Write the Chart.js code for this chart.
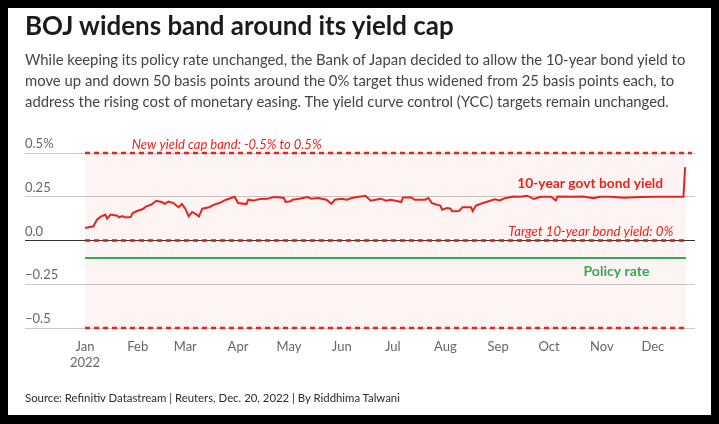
<!DOCTYPE html>
<html>
<head>
<meta charset="utf-8">
<script src="https://cdn.jsdelivr.net/npm/chart.js@4.4.0/dist/chart.umd.min.js"></script>
<style>
html,body{margin:0;padding:0;background:#000;width:719px;height:424px;overflow:hidden;position:relative;}
#card{position:absolute;left:8px;top:8px;width:703px;height:407px;background:#fff;}
#chart{position:absolute;left:0;top:0;}
.t{position:absolute;left:25px;white-space:nowrap;font-family:Lato,"Noto Sans",sans-serif;margin:0;z-index:2;}
#title{font-weight:700;color:#1b1b1b;}
.sub{color:#444;font-weight:400;}
#src{color:#2a2a2a;}
</style>
</head>
<body>
<div id="card"></div>
<canvas id="chart" width="719" height="424"></canvas>
<div class="t" id="title">BOJ widens band around its yield cap</div>
<div class="t sub" id="s1">While keeping its policy rate unchanged, the Bank of Japan decided to allow the 10-year bond yield to</div>
<div class="t sub" id="s2">move up and down 50 basis points around the 0% target thus widened from 25 basis points each, to</div>
<div class="t sub" id="s3">address the rising cost of monetary easing. The yield curve control (YCC) targets remain unchanged.</div>
<div class="t" id="src">Source: Refinitiv Datastream | Reuters, Dec. 20, 2022 | By Riddhima Talwani</div>
<script>
// ---- data (x = days since Jan 1, 2022) ----
const yieldDays = [0,5,7,9,12,13,15,19,20,22,24,27,28,31,34,36,39,42,45,47,49,52,55,57,59,61,63,65,67,69,73,76,79,83,88,89,90,95,96,99,103,107,111,115,117,118,121,
122,126,131,133,137,142,145,147,151,154,157,161,165,168,171,174,177,180,186,187,192,194,200,202,204,207,209,210,213,215,216,220,222,227,228,230,234,237,241,
244,247,252,256,260,264,268,274,277,278,285,293,299,303,309,317,327,336,344,352,353];
const yieldValues = [0.072,0.081,0.119,0.135,0.148,0.125,0.148,0.142,0.132,0.14,0.131,0.135,0.157,0.17,0.18,0.195,0.205,0.227,0.22,0.21,0.223,0.214,0.19,0.208,0.182,0.138,0.163,0.152,0.138,0.182,0.19,0.205,0.214,0.233,0.25,0.233,0.214,0.208,0.233,0.228,0.237,0.238,0.248,0.246,0.243,0.22,0.224,
0.233,0.239,0.248,0.239,0.243,0.233,0.21,0.233,0.239,0.233,0.243,0.25,0.256,0.227,0.233,0.239,0.227,0.233,0.22,0.246,0.246,0.233,0.233,0.243,0.214,0.205,0.2,0.176,0.185,0.182,0.167,0.168,0.19,0.19,0.168,0.2,0.214,0.223,0.235,
0.229,0.242,0.252,0.25,0.256,0.237,0.25,0.25,0.229,0.252,0.25,0.252,0.242,0.25,0.25,0.245,0.248,0.25,0.25,0.25,0.419];
const policyDays = [0, 353.5];
const policyRate = [-0.1, -0.1];
const capUpper = 0.5, capTarget = 0, capLower = -0.5;
const bandDays = [0, 353.5];
const capLineDays = [0, 357];
const monthStarts = [0,31,59,90,120,151,181,212,243,273,304,334];
const monthLabels = [['Jan','2022'],'Feb','Mar','Apr','May','Jun','Jul','Aug','Sep','Oct','Nov','Dec'];
const yTicks = [-0.5,-0.25,0,0.25,0.5];
const yTickLabels = ['\u22120.5','\u22120.25','0.0','0.25','0.5%'];

const RED = '#e3261d', DARKRED = '#b8221b', GREEN = '#3aa655';
const FONT = 'Lato, "Noto Sans", sans-serif';

// ---- HTML text fitting ----
const mc = document.createElement('canvas').getContext('2d');
function fitSize(txt, targetW, weight, style) {
  mc.font = `${style} ${weight} 20px ${FONT}`;
  return 20 * targetW / mc.measureText(txt).width;
}
function place(id, baseline, fs, weight, style) {
  const el = document.getElementById(id);
  mc.font = `${style} ${weight} ${fs}px ${FONT}`;
  const m = mc.measureText('Hg');
  const a = m.fontBoundingBoxAscent, d = m.fontBoundingBoxDescent;
  el.style.fontSize = fs + 'px';
  el.style.lineHeight = (a + d) + 'px';
  el.style.top = (baseline - a) + 'px';
}
const tEl = id => document.getElementById(id).textContent;
place('title', 35, fitSize(tEl('title'), 430, 700, 'normal'), 700, 'normal');
const subFs = (fitSize(tEl('s1'), 662, 400, 'normal') + fitSize(tEl('s3'), 647, 400, 'normal')) / 2;
place('s1', 65, subFs, 400, 'normal');
place('s2', 86, subFs, 400, 'normal');
place('s3', 107, subFs, 400, 'normal');
place('src', 402, fitSize(tEl('src'), 376, 400, 'normal'), 400, 'normal');

function pts(xs, ys) { return xs.map((x, i) => ({x, y: Array.isArray(ys) ? ys[i] : ys})); }

function fitFont(ctx, text, targetW, weight, style) {
  ctx.font = `${style} ${weight} 20px ${FONT}`;
  const fs = 20 * targetW / ctx.measureText(text).width;
  return `${style} ${weight} ${fs}px ${FONT}`;
}

const annot = {
  id: 'annot',
  afterDatasetsDraw(chart) {
    const {ctx, scales: {x, y}} = chart;
    ctx.save();
    ctx.textBaseline = 'middle';
    ctx.fillStyle = RED;
    let t = 'New yield cap band: -0.5% to 0.5%';
    ctx.font = fitFont(ctx, t, 190, 400, 'italic');
    ctx.textAlign = 'left';
    ctx.fillText(t, x.getPixelForValue(27.5), y.getPixelForValue(capUpper) - 8);

    t = 'Target 10-year bond yield: 0%';
    ctx.font = fitFont(ctx, t, 165, 400, 'italic');
    ctx.textAlign = 'right';
    ctx.fillText(t, x.getPixelForValue(346), y.getPixelForValue(capTarget) - 9);

    t = '10-year govt bond yield';
    ctx.font = fitFont(ctx, t, 146, 700, 'normal');
    ctx.fillText(t, x.getPixelForValue(340), y.getPixelForValue(0.25) - 13);

    t = 'Policy rate';
    ctx.fillStyle = GREEN;
    ctx.font = fitFont(ctx, t, 66, 700, 'normal');
    ctx.fillText(t, x.getPixelForValue(332), y.getPixelForValue(policyRate[0]) + 13);
    ctx.restore();
  }
};

const dashStyle = {borderWidth: 2.5, borderDash: [5, 4], borderCapStyle: 'butt', pointRadius: 0, clip: false, fill: false, order: 2};

new Chart(document.getElementById('chart'), {
  type: 'line',
  data: {
    datasets: [
      {data: pts(yieldDays, yieldValues), borderColor: RED, borderWidth: 2, pointRadius: 0, tension: 0, fill: false, order: 0},
      {data: pts(policyDays, policyRate), borderColor: GREEN, borderWidth: 2, pointRadius: 0, fill: false, order: 1},
      Object.assign({data: pts(capLineDays, capUpper), borderColor: RED}, dashStyle),
      Object.assign({data: pts(bandDays, capTarget), borderColor: DARKRED}, dashStyle),
      Object.assign({data: pts(bandDays, capLower), borderColor: RED}, dashStyle),
      {data: pts(bandDays, capUpper), borderWidth: 1, borderColor: 'rgba(0,0,0,0)', pointRadius: 0, fill: '+1', backgroundColor: 'rgba(230,30,30,0.05)', order: 5},
      {data: pts(bandDays, capLower), borderWidth: 1, borderColor: 'rgba(0,0,0,0)', pointRadius: 0, fill: false, order: 6}
    ]
  },
  options: {
    responsive: false,
    animation: false,
    devicePixelRatio: 1,
    layout: {padding: {left: 25, right: 24, top: 153, bottom: 36}},
    plugins: {legend: {display: false}, tooltip: {enabled: false}},
    scales: {
      x: {
        type: 'linear', min: -35.3, max: 358.8,
        grid: {display: false, drawTicks: false},
        border: {display: false},
        afterFit(s) { s.height = 60; },
        afterBuildTicks(s) { s.ticks = monthStarts.map(v => ({value: v})); },
        ticks: {
          padding: 11, color: '#666', maxRotation: 0, autoSkip: false,
          font: {family: FONT, size: 13, lineHeight: 1.23},
          callback(v) { const i = monthStarts.indexOf(v); return i >= 0 ? monthLabels[i] : ''; }
        }
      },
      y: {
        min: -0.5, max: 0.5,
        afterFit(s) { s.width = 0; },
        afterBuildTicks(s) { s.ticks = yTicks.map(v => ({value: v})); },
        grid: {
          drawTicks: false, lineWidth: 1,
          color(c) { return c.tick && c.tick.value === 0 ? '#333' : '#c8c8c8'; }
        },
        border: {display: false},
        ticks: {
          mirror: true, padding: 0, labelOffset: -9, color: '#666',
          font: {family: FONT, size: 13},
          callback(v) { const i = yTicks.indexOf(v); return i >= 0 ? yTickLabels[i] : ''; }
        }
      }
    }
  },
  plugins: [annot]
});
</script>
</body>
</html>
